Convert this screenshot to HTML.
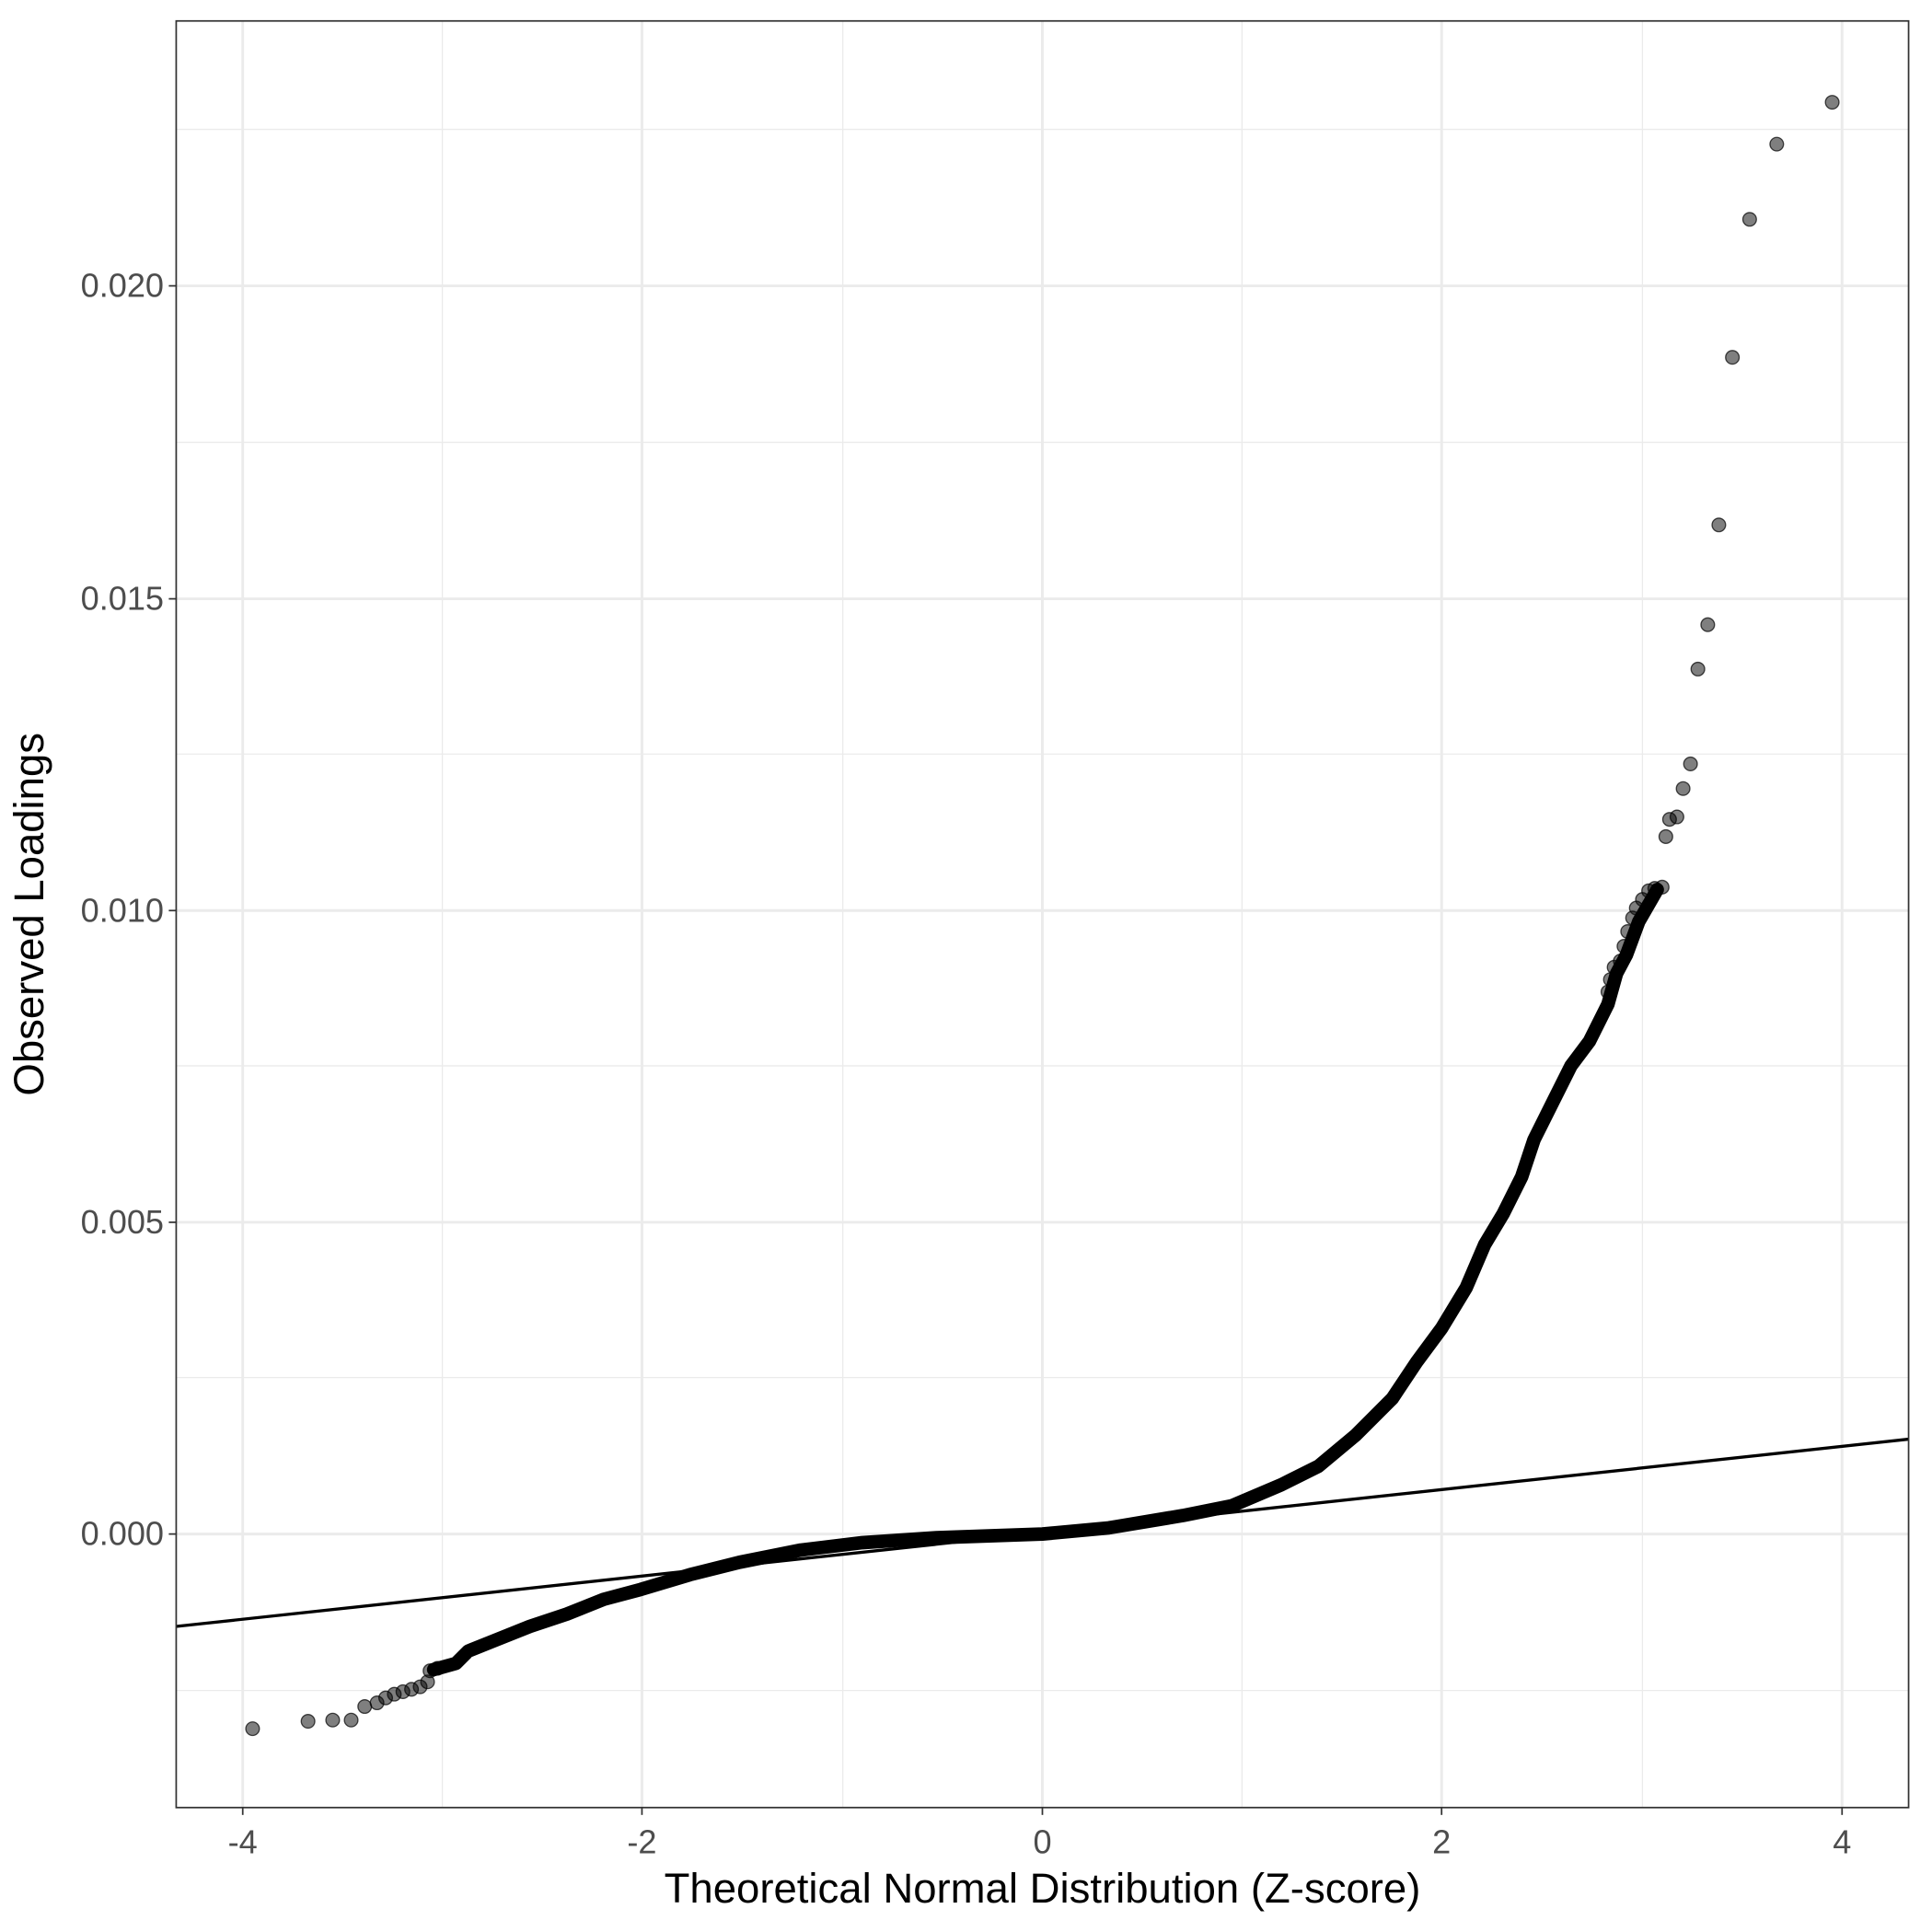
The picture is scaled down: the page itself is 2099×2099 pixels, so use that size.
<!DOCTYPE html>
<html><head><meta charset="utf-8"><style>
html,body{margin:0;padding:0;background:#fff;}
svg{display:block;}
text{font-family:"Liberation Sans",Arial,sans-serif;}
</style></head><body>
<svg width="2099" height="2099" viewBox="0 0 1568 1568" xmlns="http://www.w3.org/2000/svg">
<rect width="1568" height="1568" fill="#fff"/>
<g stroke="#ebebeb" stroke-width="1">
<line x1="359" y1="17" x2="359" y2="1467"/><line x1="684" y1="17" x2="684" y2="1467"/>
<line x1="1008" y1="17" x2="1008" y2="1467"/><line x1="1333" y1="17" x2="1333" y2="1467"/>
<line x1="143" y1="105" x2="1549" y2="105"/><line x1="143" y1="359" x2="1549" y2="359"/>
<line x1="143" y1="612" x2="1549" y2="612"/><line x1="143" y1="865" x2="1549" y2="865"/>
<line x1="143" y1="1118" x2="1549" y2="1118"/><line x1="143" y1="1372" x2="1549" y2="1372"/>
</g>
<g stroke="#ebebeb" stroke-width="2.2">
<line x1="197" y1="17" x2="197" y2="1467"/><line x1="521" y1="17" x2="521" y2="1467"/>
<line x1="846" y1="17" x2="846" y2="1467"/><line x1="1170" y1="17" x2="1170" y2="1467"/>
<line x1="1495" y1="17" x2="1495" y2="1467"/>
<line x1="143" y1="232" x2="1549" y2="232"/><line x1="143" y1="486" x2="1549" y2="486"/>
<line x1="143" y1="739" x2="1549" y2="739"/><line x1="143" y1="992" x2="1549" y2="992"/>
<line x1="143" y1="1245" x2="1549" y2="1245"/>
</g>
<path d="M352,1355 L370,1350 L380,1340 L400,1332 L430,1320 L460,1310 L490,1298 L520,1290 L560,1278 L600,1268 L650,1258 L700,1252 L760,1248 L846,1245 L900,1240 L960,1230 L1000,1222 L1040,1205 L1070,1190 L1100,1165 L1130,1135 L1150,1105 L1170,1078 L1190,1045 L1205,1010 L1220,985 L1235,955 L1245,925 L1260,895 L1275,865 L1290,845 L1305,815 L1312,790 L1320,775 L1330,748 L1345,722" fill="none" stroke="#000" stroke-width="11" stroke-linejoin="round" stroke-linecap="round"/>
<g fill="#000" fill-opacity="0.5" stroke="#000" stroke-opacity="0.7" stroke-width="1">
<circle cx="205" cy="1403" r="5.5"/><circle cx="250" cy="1397" r="5.5"/><circle cx="270" cy="1396" r="5.5"/><circle cx="285" cy="1396" r="5.5"/><circle cx="296" cy="1385" r="5.5"/><circle cx="306" cy="1382" r="5.5"/><circle cx="313" cy="1378" r="5.5"/><circle cx="320" cy="1375" r="5.5"/><circle cx="327" cy="1373" r="5.5"/><circle cx="334" cy="1371" r="5.5"/><circle cx="341" cy="1369" r="5.5"/><circle cx="347" cy="1365" r="5.5"/><circle cx="349" cy="1356" r="5.5"/><circle cx="355" cy="1354" r="5.5"/>
<circle cx="1487" cy="83" r="5.5"/><circle cx="1442" cy="117" r="5.5"/><circle cx="1420" cy="178" r="5.5"/><circle cx="1406" cy="290" r="5.5"/><circle cx="1395" cy="426" r="5.5"/><circle cx="1386" cy="507" r="5.5"/><circle cx="1378" cy="543" r="5.5"/><circle cx="1372" cy="620" r="5.5"/><circle cx="1366" cy="640" r="5.5"/><circle cx="1361" cy="663" r="5.5"/><circle cx="1355" cy="665" r="5.5"/><circle cx="1352" cy="679" r="5.5"/><circle cx="1349" cy="720" r="5.5"/><circle cx="1343" cy="721" r="5.5"/><circle cx="1338" cy="723" r="5.5"/><circle cx="1333" cy="730" r="5.5"/><circle cx="1328" cy="737" r="5.5"/><circle cx="1325" cy="745" r="5.5"/><circle cx="1321" cy="756" r="5.5"/><circle cx="1318" cy="768" r="5.5"/><circle cx="1315" cy="780" r="5.5"/><circle cx="1310" cy="785" r="5.5"/><circle cx="1307" cy="795" r="5.5"/><circle cx="1305" cy="805" r="5.5"/>
</g>
<line x1="143" y1="1320" x2="1549" y2="1168" stroke="#000" stroke-width="2.5"/>
<rect x="143" y="17" width="1406" height="1450" fill="none" stroke="#333" stroke-width="1.3"/>
<g stroke="#333" stroke-width="1.3">
<line x1="197" y1="1467" x2="197" y2="1473"/><line x1="521" y1="1467" x2="521" y2="1473"/><line x1="846" y1="1467" x2="846" y2="1473"/><line x1="1170" y1="1467" x2="1170" y2="1473"/><line x1="1495" y1="1467" x2="1495" y2="1473"/>
<line x1="137" y1="232" x2="143" y2="232"/><line x1="137" y1="486" x2="143" y2="486"/><line x1="137" y1="739" x2="143" y2="739"/><line x1="137" y1="992" x2="143" y2="992"/><line x1="137" y1="1245" x2="143" y2="1245"/>
</g>
<g font-size="27" fill="#4d4d4d" text-anchor="middle">
<text x="197" y="1504">-4</text><text x="521" y="1504">-2</text><text x="846" y="1504">0</text><text x="1170" y="1504">2</text><text x="1495" y="1504">4</text>
</g>
<g font-size="27" fill="#4d4d4d" text-anchor="end">
<text x="133" y="241">0.020</text><text x="133" y="495">0.015</text><text x="133" y="748">0.010</text><text x="133" y="1001">0.005</text><text x="133" y="1254">0.000</text>
</g>
<text x="846" y="1544" font-size="34" text-anchor="middle" fill="#000">Theoretical Normal Distribution (Z-score)</text>
<text transform="translate(35,742) rotate(-90)" font-size="34" text-anchor="middle" fill="#000">Observed Loadings</text>
</svg>
</body></html>
